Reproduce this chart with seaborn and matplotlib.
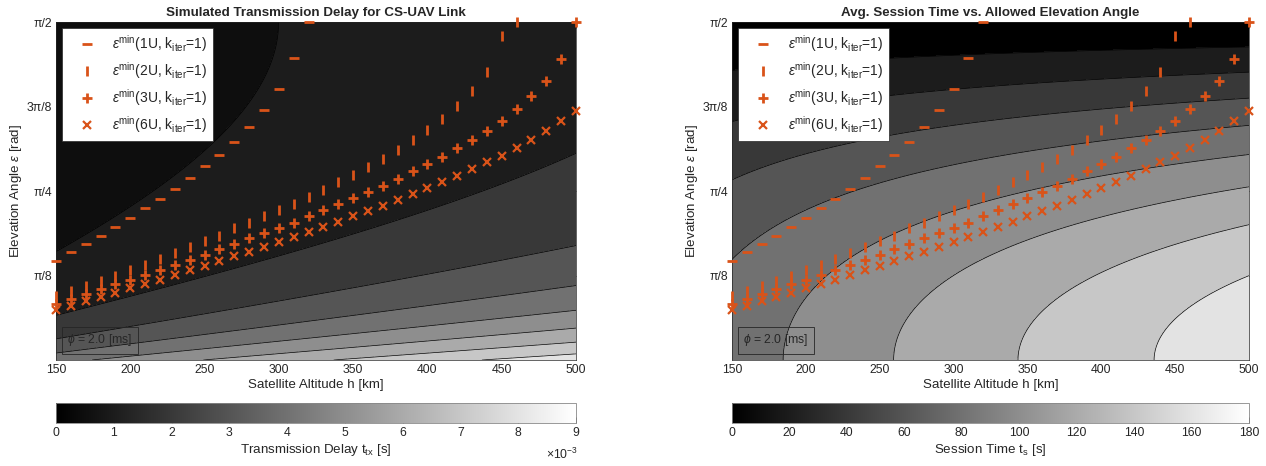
import numpy as np
import pandas as pd
import matplotlib
matplotlib.use("Agg")
import matplotlib.pyplot as plt
import seaborn as sns
from matplotlib.colors import Normalize
from matplotlib.cm import ScalarMappable

sns.set_style("white")
plt.rcParams['font.family'] = ['Liberation Sans', 'DejaVu Sans']
plt.rcParams['mathtext.fontset'] = 'custom'
plt.rcParams['mathtext.rm'] = 'Liberation Sans'
plt.rcParams['mathtext.it'] = 'Liberation Sans:italic'
plt.rcParams['mathtext.bf'] = 'Liberation Sans:bold'
plt.rcParams['mathtext.fallback'] = 'stix'

# minimum elevation angle per satellite size [rad]
altitude = np.arange(150, 501, 10)
nan = np.nan
eps_1u = [0.462, 0.504, 0.539, 0.578, 0.619, 0.661, 0.705, 0.750, 0.797, 0.845,
          0.900, 0.955, 1.014, 1.083, 1.160, 1.258, 1.402, 1.571] + [nan] * 18
eps_2u = [0.298, 0.322, 0.345, 0.368, 0.392, 0.418, 0.443, 0.470, 0.497, 0.524,
          0.552, 0.578, 0.612, 0.639, 0.667, 0.698, 0.727, 0.759, 0.792, 0.827,
          0.861, 0.898, 0.936, 0.978, 1.023, 1.070, 1.121, 1.181, 1.252, 1.337,
          1.505, 1.571] + [nan] * 4
eps_3u = [0.260, 0.285, 0.308, 0.331, 0.354, 0.374, 0.397, 0.420, 0.442, 0.465,
          0.490, 0.515, 0.540, 0.565, 0.590, 0.614, 0.639, 0.667, 0.695, 0.723,
          0.753, 0.779, 0.810, 0.843, 0.878, 0.909, 0.942, 0.983, 1.023, 1.066,
          1.112, 1.166, 1.227, 1.298, 1.398, 1.571]
eps_6u = [0.234, 0.251, 0.274, 0.293, 0.313, 0.334, 0.354, 0.374, 0.397, 0.419,
          0.439, 0.459, 0.482, 0.504, 0.527, 0.547, 0.570, 0.595, 0.618, 0.642,
          0.667, 0.692, 0.716, 0.744, 0.770, 0.801, 0.827, 0.856, 0.889, 0.921,
          0.950, 0.986, 1.024, 1.064, 1.109, 1.155]
sizes = ['1U', '2U', '3U', '6U']

# background fields from orbit geometry
R_EARTH = 6371.0      # km
MU = 398600.0         # km^3/s^2
C_LIGHT = 299792.458  # km/s

h_grid = np.linspace(150, 500, 351)
e_grid = np.linspace(0, np.pi / 2, 300)
H, E = np.meshgrid(h_grid, e_grid)
slant = np.sqrt((R_EARTH + H) ** 2 - (R_EARTH * np.cos(E)) ** 2) - R_EARTH * np.sin(E)
t_tx = slant / C_LIGHT
lam0 = np.arccos(R_EARTH / (R_EARTH + H))
omega = np.sqrt(MU / (R_EARTH + H) ** 3)
t_s = lam0 / (2 * omega) * np.cos(E)

tx_levels = np.arange(0, 10) * 1e-3
ts_levels = np.arange(0, 200, 20)

ORANGE = '#D95319'
markers = {'1U': ('_', 7.5, 2.0), '2U': ('|', 7.5, 2.0),
           '3U': ('+', 7.5, 2.0), '6U': ('x', 6.0, 1.6)}
series = {'1U': eps_1u, '2U': eps_2u, '3U': eps_3u, '6U': eps_6u}

fig = plt.figure(figsize=(12.66, 4.66), dpi=100)
W, Ht = 1266, 466


def draw_panel(left, width, Z, levels, title, cbar_label, tick_labels):
    ax = fig.add_axes([left / W, 106 / Ht, width / W, 338 / Ht])
    cax = fig.add_axes([left / W, 43 / Ht, width / W, 20 / Ht])
    vmax = levels[-1]
    norm = Normalize(0, vmax)
    zmax = Z.max()
    lv = [l for l in levels if l < zmax] + [zmax]
    lower = [max(lv[0], Z.min())] + list(lv[1:-1])
    cols = [plt.cm.gray(norm(v)) for v in lower]
    ax.contourf(H, E, Z, levels=lv, colors=cols)
    ax.contour(H, E, Z, levels=lv[1:-1], colors='k', linewidths=0.5)

    for s in sizes:
        mk, ms, mew = markers[s]
        df = pd.DataFrame({'h': altitude, 'eps': series[s]}).dropna()
        sns.lineplot(data=df, x='h', y='eps', ax=ax, marker=mk, linestyle='',
                     color=ORANGE, markersize=ms, markeredgewidth=mew,
                     markeredgecolor=ORANGE, clip_on=False, zorder=5,
                     label=r'$\epsilon^{\mathrm{min}}$(' + s + r', k$_{\mathrm{iter}}$=1)')

    ax.set_xlim(150, 500)
    ax.set_ylim(0, np.pi / 2)
    ax.set_xticks(np.arange(150, 501, 50))
    ax.set_yticks([np.pi / 8, np.pi / 4, 3 * np.pi / 8, np.pi / 2])
    ax.set_yticklabels(['π/8', 'π/4', '3π/8', 'π/2'])
    ax.tick_params(direction='in', top=True, right=True, length=4, width=0.5,
                   labelsize=8.8, colors='#262626', pad=3)
    for sp in ax.spines.values():
        sp.set_linewidth(0.5)
        sp.set_color('#262626')
    ax.set_xlabel('Satellite Altitude h [km]', fontsize=9.6, labelpad=2)
    ax.set_ylabel(r'Elevation Angle $\epsilon$ [rad]', fontsize=9.6, labelpad=2)
    ax.set_title(title, fontsize=9.6, fontweight='bold', pad=4)

    ax.legend(loc='upper left', fontsize=10, frameon=True, fancybox=False,
              edgecolor='#262626', framealpha=1, borderaxespad=0.4,
              labelspacing=0.45, handlelength=2.9, handletextpad=0.35,
              borderpad=0.4)
    ax.get_legend().get_frame().set_linewidth(0.5)

    ax.text(0.022, 0.035, r'$\phi$ = 2.0 [ms]', transform=ax.transAxes,
            fontsize=8.8, va='bottom', ha='left', zorder=6,
            bbox=dict(boxstyle='square,pad=0.45', facecolor='none',
                      edgecolor='#262626', linewidth=0.6))

    cb = fig.colorbar(ScalarMappable(norm=norm, cmap='gray'), cax=cax,
                      orientation='horizontal')
    cb.set_ticks(levels)
    cb.set_ticklabels(tick_labels)
    cb.ax.tick_params(direction='in', length=4, width=0.5, labelsize=8.8,
                      colors='#262626', pad=3)
    cb.outline.set_linewidth(0.6)
    cb.outline.set_edgecolor('#888888')
    cb.set_label(cbar_label, fontsize=9.6, labelpad=2)
    return ax, cb


draw_panel(56, 520, t_tx, tx_levels,
           'Simulated Transmission Delay for CS-UAV Link',
           r'Transmission Delay t$_{\mathrm{tx}}$ [s]',
           [str(i) for i in range(10)])
fig.text(546 / W, 12 / Ht, r'$\times10^{-3}$', fontsize=8.8, color='#262626',
         ha='left', va='center')

draw_panel(732, 517, t_s, ts_levels,
           'Avg. Session Time vs. Allowed Elevation Angle',
           r'Session Time t$_{\mathrm{s}}$ [s]',
           [str(v) for v in ts_levels])

fig.savefig('out.png', dpi=100)
